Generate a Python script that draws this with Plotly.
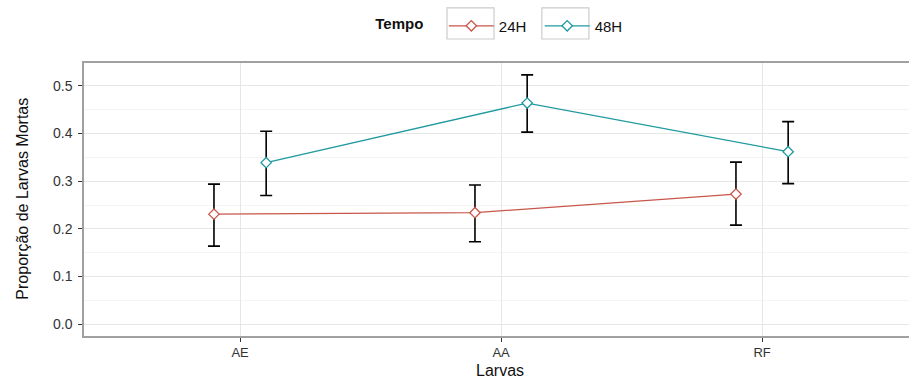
import plotly.graph_objects as go

larvas = ["AE", "AA", "RF"]
tempos = ["24H", "48H"]
media_24h = [0.231, 0.234, 0.273]
sup_24h = [0.294, 0.292, 0.340]
inf_24h = [0.164, 0.173, 0.208]
media_48h = [0.339, 0.464, 0.362]
sup_48h = [0.405, 0.523, 0.425]
inf_48h = [0.270, 0.403, 0.295]
y_ticks = [0.0, 0.1, 0.2, 0.3, 0.4, 0.5]

cores = {"24H": "#C8564A", "48H": "#1F9AA0"}
dodge = {"24H": -0.1, "48H": 0.1}
series = {
    "24H": (media_24h, sup_24h, inf_24h),
    "48H": (media_48h, sup_48h, inf_48h),
}

fig = go.Figure()
for t in tempos:
    m, s, i = series[t]
    xs = [k + dodge[t] for k in range(len(larvas))]
    fig.add_trace(go.Scatter(
        x=xs, y=m, name=t + "\u00a0\u00a0", mode="lines+markers",
        line=dict(color=cores[t], width=1.3),
        marker=dict(symbol="diamond", size=8, color="white",
                    line=dict(color=cores[t], width=1.3)),
        error_y=dict(type="data", symmetric=False,
                     array=[a - b for a, b in zip(s, m)],
                     arrayminus=[b - c for b, c in zip(m, i)],
                     color="black", thickness=1.6, width=6),
    ))

# legend key frames (ggplot-style boxes around the legend keys)
for x0, x1 in [(0.440, 0.497), (0.555, 0.612)]:
    fig.add_shape(type="rect", xref="paper", yref="paper",
                  x0=x0, x1=x1, y0=1.088, y1=1.202, layer="above",
                  line=dict(color="#cccccc", width=1.2), fillcolor="rgba(0,0,0,0)")

font = "Liberation Sans, Arial, sans-serif"
fig.update_layout(
    width=909, height=378,
    margin=dict(l=84, r=0, t=63, b=42),
    plot_bgcolor="white", paper_bgcolor="white",
    font=dict(family=font, color="#333333"),
    showlegend=True,
    legend=dict(
        orientation="h", x=0.510, xanchor="center",
        yref="container", y=0.931, yanchor="middle",
        bgcolor="rgba(0,0,0,0)",
        title=dict(text="<b>Tempo</b>   ", font=dict(size=15, color="#111111")),
        font=dict(size=15, color="#111111"),
        itemwidth=45,
    ),
    xaxis=dict(
        range=[-0.598, 2.563], automargin=False,
        tickvals=list(range(len(larvas))), ticktext=larvas,
        tickfont=dict(size=13, color="#333333"),
        showgrid=True, gridcolor="#e6e6e6", gridwidth=1.3,
        zeroline=False,
        showline=True, linecolor="#a0a0a0", linewidth=1.5, mirror=True,
        ticks="outside", ticklen=4, tickcolor="#333333", tickwidth=1.2,
    ),
    yaxis=dict(
        range=[-0.0246, 0.548], automargin=False,
        tickvals=y_ticks, tickformat=".1f",
        tickfont=dict(size=14, color="#333333"), ticklabelstandoff=3,
        showgrid=True, gridcolor="#e6e6e6", gridwidth=1.3,
        minor=dict(dtick=0.05, tick0=0.05, showgrid=True, gridcolor="#f4f4f4", gridwidth=1, ticks=""),
        zeroline=False,
        showline=True, linecolor="#a0a0a0", linewidth=1.5, mirror=False,
        ticks="outside", ticklen=4, tickcolor="#333333", tickwidth=1.2,
    ),
    annotations=[
        dict(text="Larvas", xref="paper", yref="paper", x=0.504, y=-0.127,
             xanchor="center", yanchor="middle", showarrow=False, borderpad=0,
             font=dict(size=16, color="#111111")),
        dict(text="Proporção de Larvas Mortas", xref="paper", yref="paper",
             x=-0.074, y=0.503, textangle=-90, xanchor="center", yanchor="middle",
             showarrow=False, font=dict(size=16, color="#111111")),
    ],
)

fig.write_html("out.html", config={"displayModeBar": False},
               post_script="document.body.style.margin='0';")
